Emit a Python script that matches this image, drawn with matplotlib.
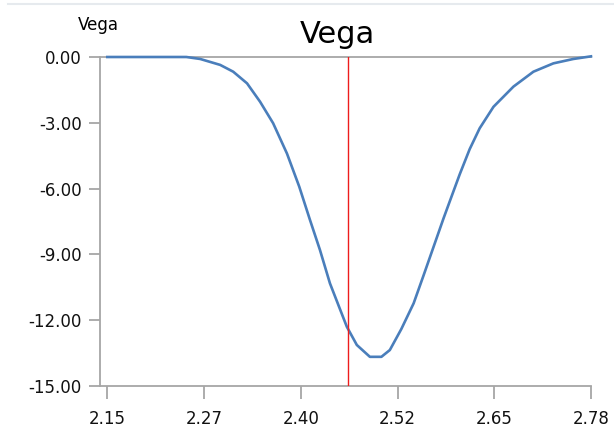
import matplotlib
matplotlib.use("Agg")
import matplotlib.pyplot as plt
from matplotlib.ticker import FormatStrFormatter
from matplotlib.lines import Line2D

# Vega curve vs. strike
strike = [2.150, 2.200, 2.253, 2.271, 2.297, 2.314, 2.332, 2.349, 2.366, 2.384,
          2.400, 2.414, 2.427, 2.440, 2.462, 2.475, 2.492, 2.507, 2.518, 2.533,
          2.549, 2.562, 2.575, 2.588, 2.599, 2.609, 2.622, 2.635, 2.653, 2.679,
          2.705, 2.731, 2.757, 2.780]
vega = [0.00, 0.00, 0.00, -0.09, -0.36, -0.67, -1.20, -2.04, -3.02, -4.40,
        -5.91, -7.43, -8.80, -10.32, -12.30, -13.13, -13.67, -13.67, -13.36, -12.40,
        -11.23, -9.95, -8.65, -7.35, -6.30, -5.35, -4.20, -3.25, -2.27, -1.35,
        -0.67, -0.29, -0.09, 0.03]

spot = 2.463
xtick_pos = [2.15, 2.276, 2.402, 2.528, 2.654, 2.78]
xtick_labels = ["2.15", "2.27", "2.40", "2.52", "2.65", "2.78"]
ytick_pos = [0, -3, -6, -9, -12, -15]

plt.rcParams["axes.unicode_minus"] = False
plt.rcParams["font.family"] = "DejaVu Sans"

W, H = 614, 430
fig = plt.figure(figsize=(W / 100, H / 100), dpi=100)
ax = fig.add_axes([100 / W, 1 - 386 / H, (591 - 100) / W, (386 - 57) / H])

ax.plot(strike, vega, color="#4a7ebb", linewidth=1.9, clip_on=False, zorder=3)
ax.axvline(spot, color="#ee1c1c", linewidth=1.0, zorder=4)

ax.set_xlim(2.1405, 2.78)
ax.set_ylim(-15, 0)
ax.set_xticks(xtick_pos)
ax.set_xticklabels(xtick_labels)
ax.set_yticks(ytick_pos)
ax.yaxis.set_major_formatter(FormatStrFormatter("%.2f"))

axis_grey = "#a6a6a6"
for side in ("left", "bottom", "top"):
    ax.spines[side].set_color(axis_grey)
    ax.spines[side].set_linewidth(1.3)
ax.spines["right"].set_visible(False)
ax.tick_params(axis="both", colors=axis_grey, labelcolor="#111111",
               labelsize=12, width=1.3)
ax.tick_params(axis="y", length=8, pad=5)
ax.tick_params(axis="x", length=9, pad=8)

fig.text(337 / W, 1 - 43 / H, "Vega", ha="center", va="baseline", fontsize=22)
fig.text(98 / W, 1 - 30 / H, "Vega", ha="center", va="baseline", fontsize=12)

# faint frame line along the top
fig.add_artist(Line2D([8 / W, 1], [1 - 4 / H, 1 - 4 / H], color="#e6eaee",
                      linewidth=1.5, transform=fig.transFigure))

fig.savefig("out.png", dpi=100)
